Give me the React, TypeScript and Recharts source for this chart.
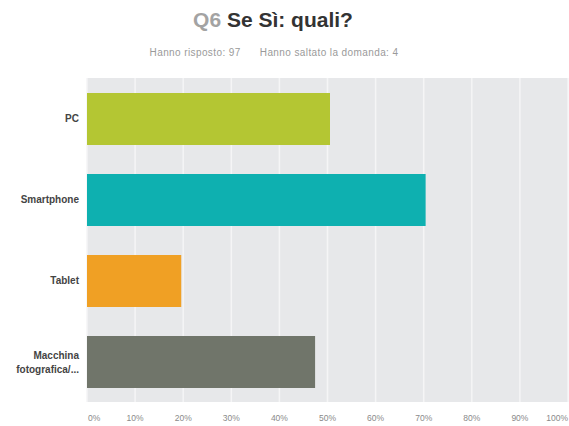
import React from "react";
import { BarChart, Bar, XAxis, YAxis, CartesianGrid, Cell } from "recharts";

const categories = ["PC", "Smartphone", "Tablet", "Macchina fotografica/..."];
const values = [50.52, 70.4, 19.59, 47.42];
const colors = ["#b4c633", "#0eb0b0", "#f0a024", "#70756a"];
const xTicks = [0, 10, 20, 30, 40, 50, 60, 70, 80, 90, 100];
const titleQ = "Q6";
const titleMain = "Se Sì: quali?";
const answered = "Hanno risposto: 97";
const skipped = "Hanno saltato la domanda: 4";

const data = categories.map((c, i) => ({ name: c, value: values[i] }));

const FONT = "'Liberation Sans', Arial, Helvetica, sans-serif";

const XTick = (props: any) => {
  const { x, y, payload } = props;
  const v = payload.value;
  let anchor: "start" | "middle" | "end" = "middle";
  let dx = 0;
  if (v === 0) { anchor = "start"; dx = 1; }
  if (v === 100) { anchor = "end"; dx = 0; }
  return (
    <text x={x + dx} y={y + 11} textAnchor={anchor} fontSize={8.5} fill="#8a8a8a" fontFamily={FONT}>
      {v}%
    </text>
  );
};

const YTick = (props: any) => {
  const { x, y, payload } = props;
  const label: string = payload.value;
  if (label.startsWith("Macchina")) {
    return (
      <text x={x} y={y} textAnchor="end" fontSize={10} fontWeight="bold" fill="#444" fontFamily={FONT}>
        <tspan x={x} dy={-3}>Macchina</tspan>
        <tspan x={x} dy={14}>fotografica/...</tspan>
      </text>
    );
  }
  return (
    <text x={x} y={y + 3.5} textAnchor="end" fontSize={10} fontWeight="bold" fill="#444" fontFamily={FONT}>
      {label}
    </text>
  );
};

export default function App() {
  return (
    <div style={{ position: "absolute", left: 0, top: 0, width: 569, height: 426, background: "#fff", fontFamily: FONT }}>
      <div style={{ position: "absolute", left: 0, top: 7, width: 546, textAlign: "center", fontSize: 21, lineHeight: "26px", fontWeight: "bold" }}>
        <span style={{ color: "#a3a3a3" }}>{titleQ}</span>{" "}
        <span style={{ color: "#333" }}>{titleMain}</span>
      </div>
      <div style={{ position: "absolute", left: 0, top: 46, width: 548, textAlign: "center", fontSize: 10, letterSpacing: 0.4, lineHeight: "13px", color: "#9a9a9a", whiteSpace: "pre" }}>
        {answered + "      " + skipped}
      </div>
      <div style={{ position: "absolute", left: 0, top: 0 }}>
        <BarChart
          width={569}
          height={426}
          data={data}
          layout="vertical"
          margin={{ top: 78, right: 1, bottom: 0, left: 0 }}
          barSize={52}
        >
          <CartesianGrid horizontal={false} vertical={true} stroke="#f5f5f6" strokeWidth={1.5} fill="#e7e8ea" />
          <XAxis
            type="number"
            domain={[0, 100]}
            ticks={xTicks}
            axisLine={false}
            tickLine={false}
            height={24}
            tick={<XTick />}
            interval={0}
          />
          <YAxis
            type="category"
            dataKey="name"
            width={87}
            axisLine={false}
            tickLine={false}
            tickMargin={2}
            tick={<YTick />}
            interval={0}
          />
          <Bar dataKey="value" isAnimationActive={false}>
            {data.map((d, i) => (
              <Cell key={d.name} fill={colors[i]} />
            ))}
          </Bar>
        </BarChart>
      </div>
    </div>
  );
}
